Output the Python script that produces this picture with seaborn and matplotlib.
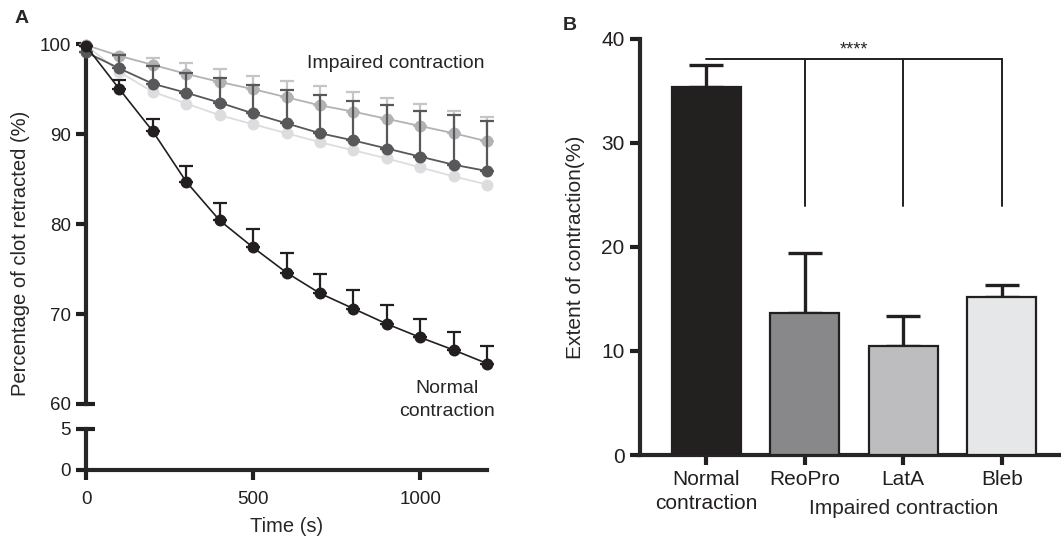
import numpy as np
import pandas as pd
import matplotlib
matplotlib.use("Agg")
import matplotlib.pyplot as plt
import matplotlib.transforms as mtransforms
import seaborn as sns

# ---------------- data ----------------
time_s = [0, 100, 200, 300, 400, 500, 600, 700, 800, 900, 1000, 1100, 1200]
normal_pct = [99.8, 95.0, 90.3, 84.7, 80.4, 77.4, 74.6, 72.3, 70.6, 68.9, 67.4, 66.0, 64.5]
normal_err = [0.0, 1.0, 1.4, 1.8, 1.9, 2.0, 2.2, 2.2, 2.1, 2.1, 2.1, 2.0, 1.9]
reopro_pct = [99.1, 97.3, 95.6, 94.6, 93.5, 92.3, 91.2, 90.1, 89.3, 88.4, 87.5, 86.6, 85.9]
reopro_err = [0.0, 1.5, 2.0, 2.2, 2.7, 3.2, 3.7, 4.2, 4.4, 4.8, 5.1, 5.5, 5.6]
lata_pct = [99.9, 98.7, 97.7, 96.7, 95.8, 95.0, 94.1, 93.2, 92.5, 91.7, 90.9, 90.1, 89.2]
lata_err = [0.0, 0.2, 0.8, 1.2, 1.4, 1.5, 1.8, 2.1, 2.2, 2.3, 2.5, 2.5, 2.7]
bleb_pct = [99.9, 96.9, 94.7, 93.4, 92.1, 91.1, 90.1, 89.1, 88.2, 87.3, 86.3, 85.3, 84.4]

bar_cats = ["Normal\ncontraction", "ReoPro", "LatA", "Bleb"]
bar_vals = [35.4, 13.7, 10.5, 15.2]
bar_errs = [2.1, 5.7, 2.9, 1.1]
sig_text = "****"

# ---------------- style ----------------
sns.set_theme(style="ticks")
plt.rcParams["font.family"] = ["Liberation Sans", "DejaVu Sans"]

C_BLACK = "#231f20"
C_DARK = "#58585b"
C_MED = "#b1b2b4"
C_LIGHT = "#dcdddf"
C_MED_ERR = "#c4c5c7"
bar_colors = ["#231f20", "#87888c", "#bcbdc0", "#e6e7e8"]

fig = plt.figure(figsize=(10.61, 5.37), dpi=100)

# ---------------- panel A ----------------
axA = fig.add_axes([0.0811, 0.2477, 0.378, 0.670])
axL = fig.add_axes([0.0811, 0.1248, 0.378, 0.0764], sharex=axA)

df = pd.concat([
    pd.DataFrame({"time": time_s, "pct": bleb_pct, "cond": "Bleb"}),
    pd.DataFrame({"time": time_s, "pct": lata_pct, "cond": "LatA"}),
    pd.DataFrame({"time": time_s, "pct": reopro_pct, "cond": "ReoPro"}),
    pd.DataFrame({"time": time_s, "pct": normal_pct, "cond": "Normal"}),
])
pal = {"Bleb": C_LIGHT, "LatA": C_MED, "ReoPro": C_DARK, "Normal": C_BLACK}
errs = {"LatA": (lata_err, C_MED_ERR), "ReoPro": (reopro_err, C_DARK), "Normal": (normal_err, C_BLACK)}

z = 2
for cond in ["Bleb", "LatA", "ReoPro", "Normal"]:
    sub = df[df["cond"] == cond]
    if cond in errs:
        e, c = errs[cond]
        axA.errorbar(sub["time"], sub["pct"], yerr=[np.zeros(len(e)), e], fmt="none",
                     ecolor=c, elinewidth=1.6, capsize=4.7, capthick=1.6, zorder=z, clip_on=False)
    sns.lineplot(data=sub, x="time", y="pct", color=pal[cond], marker="o",
                 linewidth=1.3 if cond != "Normal" else 1.2,
                 ax=axA, legend=False, zorder=z + 0.5)
    z += 1
for ln in axA.lines:
    ln.set_clip_on(False)
    if ln.get_marker() == "o":
        ln.set_markersize(8.6)
        ln.set_markeredgewidth(0)
        ln.set_markerfacecolor(ln.get_color())

axA.set_ylim(60, 100)
axA.set_xlim(0, 1200)
axA.set_yticks([60, 70, 80, 90, 100])
axA.spines[["top", "right", "bottom"]].set_visible(False)
axA.spines["left"].set_linewidth(3)
axA.tick_params(axis="y", length=7, width=3, labelsize=13.5, pad=4, colors="#231f20")
axA.tick_params(axis="x", bottom=False, labelbottom=False)
axA.set_xlabel("")
axA.set_ylabel("")
axA.patch.set_visible(False)

axL.set_ylim(0, 5)
axL.set_yticks([0, 5])
axL.set_xticks([0, 500, 1000])
axL.spines[["top", "right"]].set_visible(False)
axL.spines["left"].set_linewidth(3)
axL.spines["bottom"].set_linewidth(3)
axL.tick_params(axis="both", length=7, width=3, labelsize=13.5, pad=4, colors="#231f20")
axL.tick_params(axis="x", pad=8)
axL.patch.set_visible(False)

# break marks (extend ticks to the right of the spine)
for ax, yv in [(axA, 60), (axL, 5)]:
    tr = mtransforms.blended_transform_factory(ax.transAxes, ax.transData)
    ax.plot([0, 0.022], [yv, yv], color="#231f20", lw=3, transform=tr, clip_on=False,
            solid_capstyle="butt")

axA.text(1192, 97.8, "Impaired contraction", ha="right", va="center", fontsize=14)
axA.text(1080, 60.4, "Normal\ncontraction", ha="center", va="center", fontsize=14,
         linespacing=1.45)

fig.text(0.019, 0.529, "Percentage of clot retracted (%)", rotation=90, ha="center",
         va="center", fontsize=14.5)
fig.text(0.270, 0.001, "Time (s)", ha="center", va="bottom", fontsize=14.5)
fig.text(0.014, 0.965, "A", fontsize=14, fontweight="bold", ha="left", va="center")

# ---------------- panel B ----------------
axB = fig.add_axes([0.6032, 0.1527, 0.3958, 0.7747])
dfb = pd.DataFrame({"cat": bar_cats, "val": bar_vals})
sns.barplot(data=dfb, x="cat", y="val", hue="cat", palette=bar_colors, width=0.7,
            edgecolor="#231f20", linewidth=1.6, legend=False, ax=axB, zorder=3)
axB.errorbar(np.arange(len(bar_vals)), bar_vals, yerr=[np.zeros(len(bar_errs)), bar_errs],
             fmt="none", ecolor="#231f20", elinewidth=2.4, capsize=12.5, capthick=2.4, zorder=2)
axB.set_ylim(0, 40)
axB.set_xlim(-0.67, 3.59)
axB.set_yticks([0, 10, 20, 30, 40])
axB.spines[["top", "right"]].set_visible(False)
axB.spines["left"].set_linewidth(3)
axB.spines["bottom"].set_linewidth(3)
axB.tick_params(axis="y", length=7, width=3, labelsize=15, pad=4, colors="#231f20")
axB.tick_params(axis="x", length=7, width=3, labelsize=15, pad=4, colors="#231f20")
for lab in axB.get_xticklabels():
    lab.set_linespacing(1.3)
axB.set_xlabel("")
axB.set_ylabel("Extent of contraction(%)", fontsize=15, labelpad=12)
axB.patch.set_visible(False)

# significance bracket
ytop = 38.1
axB.plot([0, 3], [ytop, ytop], color="#231f20", lw=1.4, zorder=4)
for xi in [1, 2, 3]:
    axB.plot([xi, xi], [ytop, 23.9], color="#231f20", lw=1.4, zorder=4)
axB.text(1.5, ytop + 0.05, sig_text, ha="center", va="bottom", fontsize=13)

trB = mtransforms.blended_transform_factory(axB.transData, fig.transFigure)
axB.text(2, 0.053, "Impaired contraction", ha="center", va="center", fontsize=15, transform=trB)
fig.text(0.530, 0.953, "B", fontsize=14, fontweight="bold", ha="left", va="center")

fig.savefig("out.png", dpi=100)
